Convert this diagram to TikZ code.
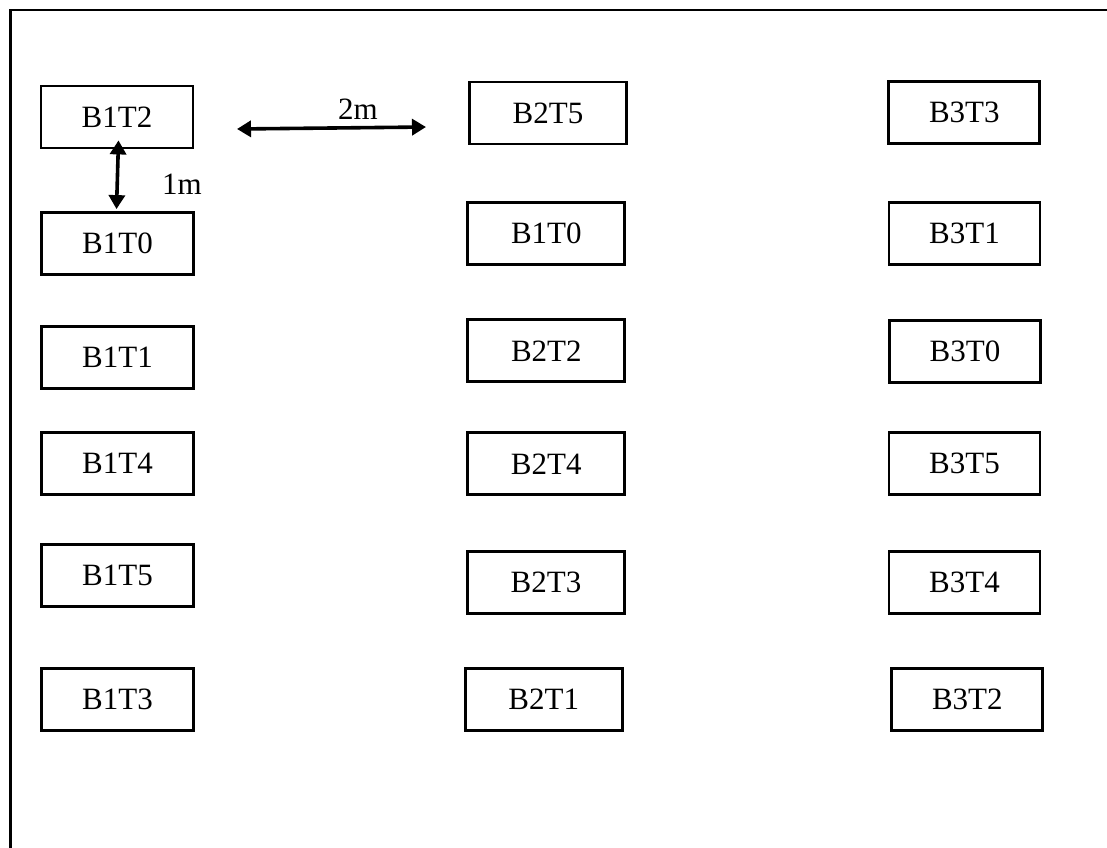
\documentclass[tikz,border=0pt]{standalone}
\usepackage{fontspec}
\setmainfont{Liberation Serif}
\usetikzlibrary{arrows.meta}
\begin{document}
\begin{tikzpicture}[x=1pt,y=-1pt,
  box/.style={draw, line width=2.8pt, inner sep=0pt, minimum height=62pt, font=\fontsize{31}{37}\selectfont},
  boxa/.style={box, minimum width=152pt},
  boxb/.style={box, minimum width=157pt},
  boxc/.style={box, minimum width=151pt},
  lbl/.style={inner sep=0pt, font=\fontsize{31}{37}\selectfont},
  dimarrow/.style={line width=3.6pt, {Triangle[length=14pt,width=16pt]}-{Triangle[length=14pt,width=16pt]}},
  frame/.style={line width=2.8pt}]
\useasboundingbox (0,0) rectangle (1107,847);
% frame (top and left edges)
\draw[frame] (10.5,848) -- (10.5,10) -- (1108,10);
% column 1
\node[boxa] (c1r1) at (117,117) {B1T2};
\node[boxa] (c1r2) at (117.5,243.5) {B1T0};
\node[boxa] (c1r3) at (117.5,357.5) {B1T1};
\node[boxa] (c1r4) at (117.5,463.2) {B1T4};
\node[boxa] (c1r5) at (117.5,575.3) {B1T5};
\node[boxa] (c1r6) at (117.5,699.5) {B1T3};
% column 2
\node[boxb] (c2r1) at (548,113) {B2T5};
\node[boxb] (c2r2) at (546.3,233.8) {B1T0};
\node[boxb] (c2r3) at (546.3,350.8) {B2T2};
\node[boxb] (c2r4) at (546.2,463.8) {B2T4};
\node[boxb] (c2r5) at (546,582.5) {B2T3};
\node[boxb] (c2r6) at (543.7,699.2) {B2T1};
% column 3
\node[boxc] (c3r1) at (964.3,112.8) {B3T3};
\node[boxc] (c3r2) at (964.5,233.8) {B3T1};
\node[boxc] (c3r3) at (965,351.5) {B3T0};
\node[boxc] (c3r4) at (964.5,463.3) {B3T5};
\node[boxc] (c3r5) at (964.5,582.2) {B3T4};
\node[boxc] (c3r6) at (967.3,699.3) {B3T2};
% dimension arrows
\draw[dimarrow] ([xshift=1.5pt,yshift=9pt]c1r1.south) -- ([xshift=-1pt,yshift=2pt]c1r2.north);
\node[lbl] (lab1m) at (182,184) {1m};
\coordinate (hleft) at (237,129);
\coordinate (hright) at (426,127);
\draw[dimarrow] (hleft) -- (hright);
\node[lbl] (lab2m) at (358,109) {2m};
\end{tikzpicture}
\end{document}
